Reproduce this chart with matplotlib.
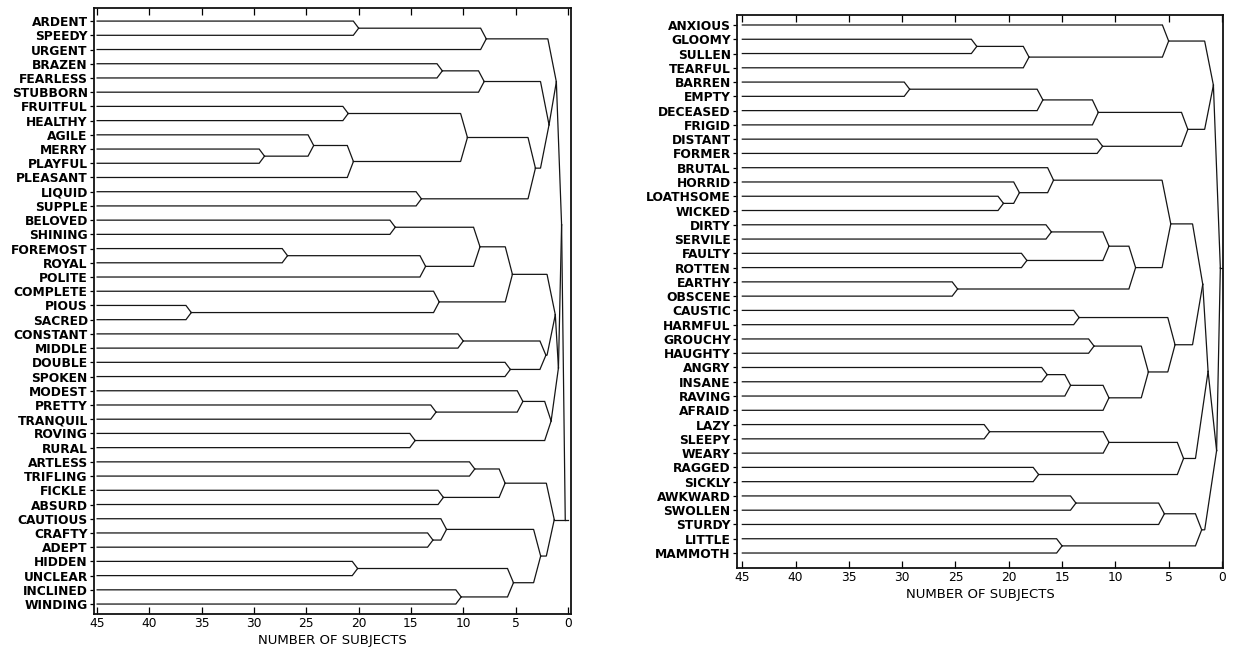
import matplotlib
matplotlib.use('Agg')
import matplotlib.pyplot as plt

# leaves, top to bottom
left_leaves = ['ARDENT', 'SPEEDY', 'URGENT', 'BRAZEN', 'FEARLESS', 'STUBBORN',
               'FRUITFUL', 'HEALTHY', 'AGILE', 'MERRY', 'PLAYFUL', 'PLEASANT',
               'LIQUID', 'SUPPLE', 'BELOVED', 'SHINING', 'FOREMOST', 'ROYAL',
               'POLITE', 'COMPLETE', 'PIOUS', 'SACRED', 'CONSTANT', 'MIDDLE',
               'DOUBLE', 'SPOKEN', 'MODEST', 'PRETTY', 'TRANQUIL', 'ROVING',
               'RURAL', 'ARTLESS', 'TRIFLING', 'FICKLE', 'ABSURD', 'CAUTIOUS',
               'CRAFTY', 'ADEPT', 'HIDDEN', 'UNCLEAR', 'INCLINED', 'WINDING']

right_leaves = ['ANXIOUS', 'GLOOMY', 'SULLEN', 'TEARFUL', 'BARREN', 'EMPTY',
                'DECEASED', 'FRIGID', 'DISTANT', 'FORMER', 'BRUTAL', 'HORRID',
                'LOATHSOME', 'WICKED', 'DIRTY', 'SERVILE', 'FAULTY', 'ROTTEN',
                'EARTHY', 'OBSCENE', 'CAUSTIC', 'HARMFUL', 'GROUCHY', 'HAUGHTY',
                'ANGRY', 'INSANE', 'RAVING', 'AFRAID', 'LAZY', 'SLEEPY', 'WEARY',
                'RAGGED', 'SICKLY', 'AWKWARD', 'SWOLLEN', 'STURDY', 'LITTLE',
                'MAMMOTH']

# merges: (child, child, number of subjects); int child = earlier merge index
left_merges = [
    ('ARDENT', 'SPEEDY', 20), (0, 'URGENT', 7.8),
    ('BRAZEN', 'FEARLESS', 12), (2, 'STUBBORN', 8),
    ('FRUITFUL', 'HEALTHY', 21), ('MERRY', 'PLAYFUL', 29), ('AGILE', 5, 24.3),
    (6, 'PLEASANT', 20.5), (4, 7, 9.6), ('LIQUID', 'SUPPLE', 14), (8, 9, 3.1),
    (3, 10, 1.8), (1, 11, 1.1),
    ('BELOVED', 'SHINING', 16.5), ('FOREMOST', 'ROYAL', 26.8), (14, 'POLITE', 13.6),
    (13, 15, 8.4), ('PIOUS', 'SACRED', 36), ('COMPLETE', 17, 12.3), (16, 18, 5.3),
    ('CONSTANT', 'MIDDLE', 10), ('DOUBLE', 'SPOKEN', 5.5), (20, 21, 2.1),
    ('PRETTY', 'TRANQUIL', 12.6), ('MODEST', 23, 4.3), ('ROVING', 'RURAL', 14.6),
    (24, 25, 1.6), (19, 22, 1.2), (27, 26, 0.9), (12, 28, 0.6),
    ('ARTLESS', 'TRIFLING', 8.9), ('FICKLE', 'ABSURD', 11.9), (30, 31, 6.0),
    ('CRAFTY', 'ADEPT', 12.9), ('CAUTIOUS', 33, 11.6), ('HIDDEN', 'UNCLEAR', 20.1),
    ('INCLINED', 'WINDING', 10.2), (35, 36, 5.2), (34, 37, 2.6), (32, 38, 1.3),
    (29, 39, 0.25),
]

right_merges = [
    ('GLOOMY', 'SULLEN', 23), (0, 'TEARFUL', 18.1), ('ANXIOUS', 1, 5.0),
    ('BARREN', 'EMPTY', 29.3), (3, 'DECEASED', 16.8), (4, 'FRIGID', 11.6),
    ('DISTANT', 'FORMER', 11.2), (5, 6, 3.2), (2, 7, 0.8),
    ('LOATHSOME', 'WICKED', 20.5), ('HORRID', 9, 19.0), ('BRUTAL', 10, 15.8),
    ('DIRTY', 'SERVILE', 16.0), ('FAULTY', 'ROTTEN', 18.3), (12, 13, 10.6),
    ('EARTHY', 'OBSCENE', 24.8), (14, 15, 8.1), (11, 16, 4.8),
    ('CAUSTIC', 'HARMFUL', 13.4), ('GROUCHY', 'HAUGHTY', 12.0),
    ('ANGRY', 'INSANE', 16.4), (20, 'RAVING', 14.2), (21, 'AFRAID', 10.6),
    (19, 22, 6.9), (18, 23, 4.4), (17, 24, 1.8),
    ('LAZY', 'SLEEPY', 21.8), (26, 'WEARY', 10.6), ('RAGGED', 'SICKLY', 17.2),
    (27, 28, 3.6), (25, 29, 1.3),
    ('AWKWARD', 'SWOLLEN', 13.7), (31, 'STURDY', 5.4), ('LITTLE', 'MAMMOTH', 15.0),
    (32, 33, 1.9), (30, 34, 0.5), (8, 35, 0.15),
]

x_ticks = [45, 40, 35, 30, 25, 20, 15, 10, 5, 0]


def draw_tree(ax, leaves, merges, root_low=False):
    pos = {name: (45, i) for i, name in enumerate(leaves)}
    nodes = []
    for k, (a, b, h) in enumerate(merges):
        pa = nodes[a] if isinstance(a, int) else pos[a]
        pb = nodes[b] if isinstance(b, int) else pos[b]
        ym = (pa[1] + pb[1]) / 2
        if root_low and k == len(merges) - 1:
            # last join drawn down at the lower branch, as in the original
            ym = pb[1]
        for xc, yc in (pa, pb):
            d = min(0.45 + 0.12 * abs(yc - ym), xc - h)
            ax.plot([xc, h + d, h], [yc, yc, ym], color='#151515', lw=0.9,
                    solid_joinstyle='miter')
        nodes.append((h, ym))
    root = nodes[-1]
    ax.plot([root[0], 0], [root[1], root[1]], color='#151515', lw=0.9)


def setup(ax, leaves, top_pad, bottom_pad, xmin, xmax):
    ax.set_xlim(xmin, xmax)
    ax.set_ylim(len(leaves) - 1 + bottom_pad, -top_pad)
    ax.set_yticks(range(len(leaves)))
    ax.set_yticklabels(leaves, fontsize=8.8, fontweight='bold')
    ax.tick_params(axis='y', length=3, width=0.9, pad=1.5)
    ax.set_xticks(x_ticks)
    ax.set_xticklabels([str(t) for t in x_ticks], fontsize=8.8)
    ax.tick_params(axis='x', direction='in', length=5, width=0.9, top=True,
                   pad=2)
    for s in ax.spines.values():
        s.set_linewidth(1.3)
        s.set_color('#111111')
    ax.set_xlabel('NUMBER OF SUBJECTS', fontsize=9.5, labelpad=3)


fig = plt.figure(figsize=(12.34, 6.53), dpi=100)

ax1 = fig.add_axes([94 / 1234, 39 / 653, 477 / 1234, 606 / 653])
draw_tree(ax1, left_leaves, left_merges, root_low=True)
setup(ax1, left_leaves, 0.92, 0.7, 45.3, -0.3)

ax2 = fig.add_axes([737 / 1234, 85 / 653, 486 / 1234, 553 / 653])
draw_tree(ax2, right_leaves, right_merges)
setup(ax2, right_leaves, 0.7, 1.05, 45.5, -0.1)

fig.savefig('out.png', dpi=100)
